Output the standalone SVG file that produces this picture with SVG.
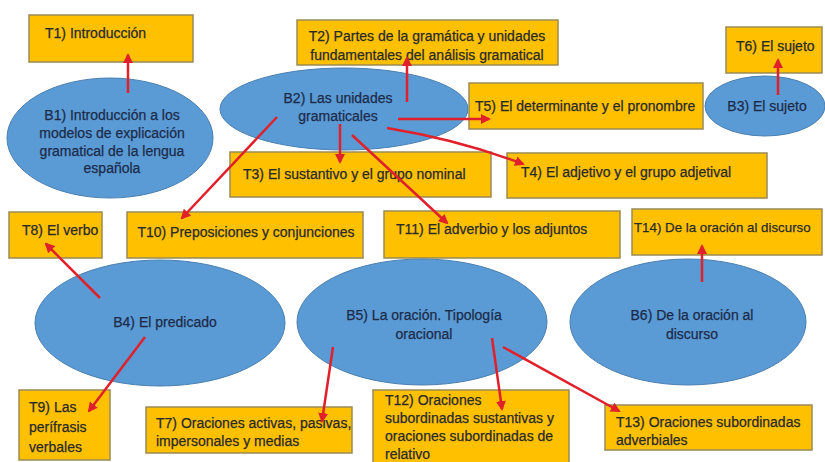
<svg xmlns="http://www.w3.org/2000/svg" width="825" height="462" viewBox="0 0 825 462">
<defs>
<style>
.box{fill:#FFC000;stroke:#9a8a55;stroke-width:1.5}
.ell{fill:#5B9BD5;stroke:#4a7fb0;stroke-width:1}
.t{font-family:"Liberation Sans",Arial,sans-serif;font-size:14px;fill:#2a2a2a;stroke:#2a2a2a;stroke-width:0.25}
.c{text-anchor:middle}
.b{font-family:"Liberation Sans",Arial,sans-serif;font-size:14px;fill:#1c2b4a;stroke:#1c2b4a;stroke-width:0.25;text-anchor:middle}
.a{stroke:#E0202A;stroke-width:2.5;fill:none;marker-end:url(#ah)}
</style>
<marker id="ah" viewBox="0 0 10 10" refX="8" refY="5" markerWidth="4" markerHeight="4" orient="auto" markerUnits="strokeWidth">
<path d="M0,0 L10,5 L0,10 z" fill="#E0202A"/>
</marker>
</defs>
<rect width="825" height="462" fill="#ffffff"/>

<g id="T1"><rect class="box" x="29" y="15" width="164" height="47"/><text class="t" x="45" y="38">T1) Introducción</text></g>
<g id="B1"><ellipse class="ell" cx="110" cy="138" rx="103" ry="60"/>
<text class="b" x="112" y="120">B1) Introducción a los</text>
<text class="b" x="112" y="138">modelos de explicación</text>
<text class="b" x="112" y="156">gramatical de la lengua</text>
<text class="b" x="112" y="173">española</text></g>

<g id="T2"><rect class="box" x="297" y="20" width="261" height="45"/>
<text class="t c" x="427" y="41">T2) Partes de la gramática y unidades</text>
<text class="t c" x="427" y="60">fundamentales del análisis gramatical</text></g>
<g id="B2"><ellipse class="ell" cx="344" cy="109" rx="124" ry="41"/>
<text class="b" x="338" y="103">B2) Las unidades</text>
<text class="b" x="338" y="121">gramaticales</text></g>

<g id="T5"><rect class="box" x="469" y="83" width="234" height="46"/><text class="t" x="475" y="111">T5) El determinante y el pronombre</text></g>
<g id="B3"><ellipse class="ell" cx="765" cy="106" rx="60" ry="30"/><text class="b" x="767" y="111">B3) El sujeto</text></g>
<g id="T6"><rect class="box" x="726" y="27" width="96" height="46"/><text class="t" x="736" y="51">T6) El sujeto</text></g>

<g id="T3"><rect class="box" x="230" y="152" width="261" height="45"/><text class="t" x="243" y="179">T3) El sustantivo y el grupo nominal</text></g>
<g id="T4"><rect class="box" x="507" y="153" width="260" height="45"/><text class="t" x="521" y="177">T4) El adjetivo y el grupo adjetival</text></g>

<g id="T8"><rect class="box" x="9" y="212" width="93" height="46"/><text class="t" x="22" y="235">T8) El verbo</text></g>
<g id="T10"><rect class="box" x="127" y="212" width="236" height="46"/><text class="t c" x="246" y="237">T10) Preposiciones y conjunciones</text></g>
<g id="T11"><rect class="box" x="384" y="211" width="236" height="47"/><text class="t" x="396" y="234">T11) El adverbio y los adjuntos</text></g>
<g id="T14"><rect class="box" x="632" y="209" width="190" height="46"/><text class="t" x="634" y="232" style="font-size:13.3px">T14) De la oración al discurso</text></g>

<g id="B4"><ellipse class="ell" cx="160" cy="323" rx="125" ry="63"/><text class="b" x="165" y="327">B4) El predicado</text></g>
<g id="B5"><ellipse class="ell" cx="422" cy="322" rx="125" ry="63"/>
<text class="b" x="424" y="320">B5) La oración. Tipología</text>
<text class="b" x="424" y="339">oracional</text></g>
<g id="B6"><ellipse class="ell" cx="688" cy="322" rx="118" ry="63"/>
<text class="b" x="692" y="320">B6) De la oración al</text>
<text class="b" x="692" y="339">discurso</text></g>

<g id="T9"><rect class="box" x="19" y="390" width="91" height="70"/>
<text class="t" x="29" y="412">T9) Las</text>
<text class="t" x="29" y="432">perífrasis</text>
<text class="t" x="29" y="452">verbales</text></g>
<g id="T7"><rect class="box" x="146" y="407" width="206" height="46"/>
<text class="t" x="156" y="428">T7) Oraciones activas, pasivas,</text>
<text class="t" x="156" y="446">impersonales y medias</text></g>
<g id="T12"><rect class="box" x="373" y="390" width="196" height="80"/>
<text class="t" x="385" y="405">T12) Oraciones</text>
<text class="t" x="385" y="423">subordinadas sustantivas y</text>
<text class="t" x="385" y="441">oraciones subordinadas de</text>
<text class="t" x="385" y="459">relativo</text></g>
<g id="T13"><rect class="box" x="605" y="405" width="207" height="45"/>
<text class="t" x="616" y="427">T13) Oraciones subordinadas</text>
<text class="t" x="616" y="445">adverbiales</text></g>

<g id="connectors">
<line class="a" x1="128" y1="93" x2="128" y2="55"/>
<line class="a" x1="407" y1="102" x2="407" y2="58"/>
<line class="a" x1="398" y1="119" x2="489" y2="119"/>
<line class="a" x1="778" y1="95" x2="778" y2="60"/>
<path class="a" d="M387,128 Q460,140 523,164"/>
<line class="a" x1="340" y1="124" x2="340" y2="162"/>
<line class="a" x1="352" y1="135" x2="447" y2="223"/>
<line class="a" x1="277" y1="117" x2="182" y2="218"/>
<line class="a" x1="702" y1="282" x2="702" y2="246"/>
<line class="a" x1="100" y1="298" x2="46" y2="244"/>
<line class="a" x1="145" y1="337" x2="89" y2="411"/>
<line class="a" x1="333" y1="347" x2="322" y2="421"/>
<line class="a" x1="492" y1="338" x2="502" y2="409"/>
<line class="a" x1="503" y1="347" x2="619" y2="411"/>
</g>
</svg>
